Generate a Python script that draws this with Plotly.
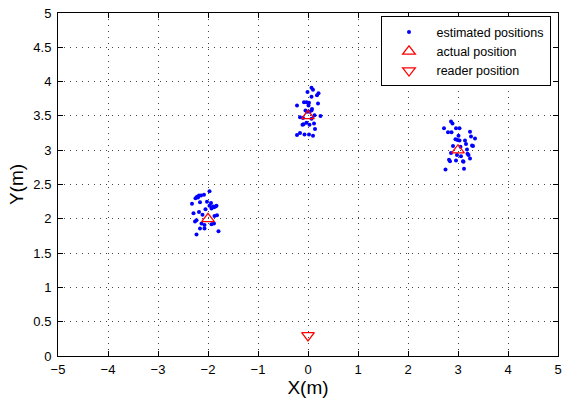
import plotly.graph_objects as go

# estimated positions
est_x = [
    # cluster near (-2, 2)
    -1.97, -2.08, -2.14, -2.18, -2.20, -2.22, -2.32, -2.16, -1.94, -1.90, -1.88,
    -1.85, -1.83, -1.93, -1.97, -2.05, -2.29, -2.18, -2.11, -1.82, -1.87, -2.26,
    -2.23, -2.13, -2.07, -1.93, -1.88, -2.16, -2.07, -1.79, -2.23, -2.25, -2.02,
    # cluster near (0, 3.5)
    0.07, 0.10, -0.01, 0.21, 0.18, 0.07, -0.08, -0.03, 0.02, 0.20, -0.22, 0.01,
    -0.05, -0.02, 0.03, 0.07, 0.13, 0.25, -0.16, -0.10, 0.07, -0.03, -0.09,
    -0.11, 0.03, 0.12, 0.14, -0.22, -0.16, -0.07, 0.02, 0.10, 0.08,
    # cluster near (3, 3)
    2.86, 2.89, 2.72, 2.96, 3.03, 2.80, 2.87, 3.24, 3.26, 3.34, 3.01, 2.95,
    2.99, 3.03, 3.14, 3.16, 2.90, 3.28, 3.30, 3.05, 3.18, 3.19, 3.21, 2.86,
    2.98, 3.06, 3.24, 2.82, 2.84, 2.96, 3.10, 3.11, 2.75, 3.12,
]
est_y = [
    2.40, 2.35, 2.34, 2.34, 2.31, 2.32, 2.22, 2.24, 2.23, 2.18, 2.17,
    2.18, 2.19, 2.15, 2.19, 2.14, 2.08, 2.10, 2.06, 2.05, 2.04, 1.96,
    1.98, 1.93, 1.91, 1.92, 1.93, 1.86, 1.86, 1.82, 1.77, 2.30, 2.25,
    3.91, 3.88, 3.85, 3.83, 3.80, 3.78, 3.70, 3.70, 3.69, 3.68, 3.65, 3.65,
    3.58, 3.56, 3.56, 3.58, 3.51, 3.50, 3.48, 3.47, 3.46, 3.40, 3.38,
    3.37, 3.37, 3.39, 3.31, 3.22, 3.25, 3.23, 3.23, 3.21, 3.60,
    3.42, 3.39, 3.32, 3.32, 3.32, 3.26, 3.26, 3.27, 3.20, 3.17, 3.21, 3.16,
    3.15, 3.14, 3.14, 3.09, 3.06, 3.07, 3.06, 3.05, 3.01, 2.95, 2.93, 2.96,
    2.93, 2.91, 2.88, 2.86, 2.84, 2.85, 2.84, 2.83, 2.72, 2.73,
]

actual_x = [-2, 0, 3]
actual_y = [2, 3.5, 3]
reader_x = [0]
reader_y = [0.3]

x_ticks = [-5, -4, -3, -2, -1, 0, 1, 2, 3, 4, 5]
y_ticks = [0, 0.5, 1, 1.5, 2, 2.5, 3, 3.5, 4, 4.5, 5]

FONT = "Liberation Sans, Arial, sans-serif"

fig = go.Figure()
fig.add_trace(go.Scatter(
    x=est_x, y=est_y, mode="markers", name="estimated positions",
    marker=dict(color="#0000ff", size=4, line=dict(width=0)),
))
fig.add_trace(go.Scatter(
    x=actual_x, y=actual_y, mode="markers", name="actual position",
    marker=dict(symbol="triangle-up-open", color="#ff0000", size=11,
                line=dict(width=1.3, color="#ff0000")),
))
fig.add_trace(go.Scatter(
    x=reader_x, y=reader_y, mode="markers", name="reader position",
    marker=dict(symbol="triangle-down-open", color="#ff0000", size=11,
                line=dict(width=1.3, color="#ff0000")),
))

axis_common = dict(
    showline=True, linecolor="black", linewidth=1, mirror="ticks",
    ticks="inside", ticklen=5, tickcolor="black", tickwidth=1,
    showgrid=True, gridcolor="#444444", gridwidth=1, griddash="1px,5px",
    zeroline=False, ticklabeloverflow="allow",
    tickfont=dict(family=FONT, size=13, color="black"),
    title_font=dict(family=FONT, size=19, color="black"),
)

fig.update_xaxes(
    range=[-5, 5], tickvals=x_ticks,
    ticktext=[("\u2212" + str(-v)) if v < 0 else str(v) for v in x_ticks],
    title_text="X(m)", title_standoff=2, ticklabelstandoff=1, **axis_common,
)
fig.update_yaxes(
    range=[0, 5], tickvals=y_ticks,
    ticktext=[("%g" % v) for v in y_ticks],
    title_text="Y(m)", title_standoff=4, ticklabelstandoff=3, **axis_common,
)

fig.update_layout(
    width=564, height=403,
    margin=dict(l=58, r=2, t=13, b=47),
    plot_bgcolor="white", paper_bgcolor="white",
    showlegend=True,
    legend=dict(
        x=0.985, y=0.99, xanchor="right", yanchor="top",
        bgcolor="white", bordercolor="black", borderwidth=1,
        font=dict(family=FONT, size=12.5, color="black"),
        itemsizing="trace", tracegroupgap=0, itemwidth=45,
    ),
)

fig.write_html("out.html")
